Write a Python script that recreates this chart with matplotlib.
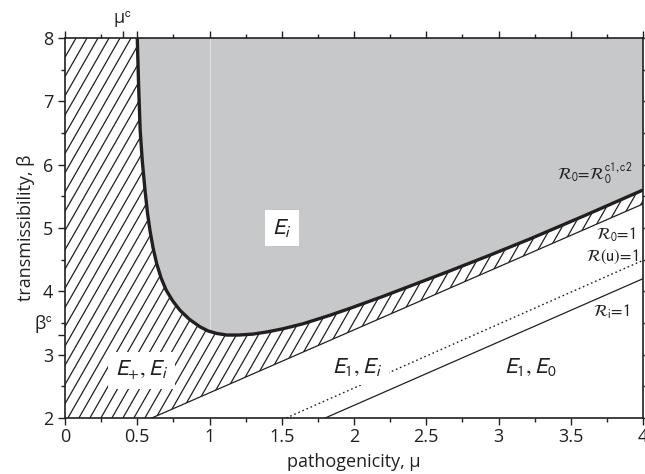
import numpy as np
import matplotlib
matplotlib.use("Agg")
import matplotlib.pyplot as plt
from matplotlib.collections import LineCollection

plt.rcParams['font.family'] = ['Open Sans', 'DejaVu Sans']
plt.rcParams['mathtext.fontset'] = 'stixsans'

# ---- data ----
# boundary R0 = R0^{c1,c2} (thick curve)
curve_mu = [0.500, 0.505, 0.510, 0.520, 0.535, 0.554, 0.570, 0.588, 0.610, 0.634,
            0.665, 0.700, 0.745, 0.796, 0.860, 0.934, 0.990, 1.050, 1.120, 1.200,
            1.300, 1.400, 1.510, 1.650, 1.830, 1.970, 2.200, 2.430, 2.660, 2.950,
            3.220, 3.600, 4.000]
curve_beta = [8.00, 7.60, 7.20, 6.55, 6.05, 5.59, 5.25, 4.96, 4.68, 4.44,
              4.21, 4.02, 3.85, 3.70, 3.56, 3.44, 3.375, 3.335, 3.31, 3.31,
              3.325, 3.36, 3.41, 3.49, 3.62, 3.73, 3.92, 4.12, 4.32, 4.58,
              4.83, 5.20, 5.60]
# straight boundaries
r0_mu, r0_beta = [0.60, 4.00], [2.00, 5.38]        # R0 = 1
ru_mu, ru_beta = [1.53, 4.00], [2.00, 4.49]        # R(u) = 1 (dotted)
ri_mu, ri_beta = [1.80, 4.00], [2.00, 4.20]        # Ri = 1

MU_C = 0.40
BETA_C = 3.31

x_major = [0, 0.5, 1, 1.5, 2, 2.5, 3, 3.5, 4]
x_labels = ['0', '0.5', '1', '1.5', '2', '2.5', '3', '3.5', '4']
y_major = [2, 3, 4, 5, 6, 7, 8]

region_labels = [
    (r'$E_i$', 1.50, 5.00, True),
    (r'$E_{+}, E_i$', 0.53, 2.75, True),
    (r'$E_{\mathit{1}}, E_i$', 2.02, 2.80, True),
    (r'$E_{\mathit{1}}, E_{\mathit{0}}$', 3.22, 2.80, False),
]
line_labels = [
    (r'$\mathcal{R}_0\!=\!\mathcal{R}_0^{\mathrm{c1,c2}}$', 3.93, 5.86),
    (r'$\mathcal{R}_0\!=\!1$', 3.95, 4.89),
    (r'$\mathcal{R}(\mathrm{u})\!=\!1$', 3.97, 4.54),
    (r'$\mathcal{R}_\mathrm{i}\!=\!1$', 3.91, 3.67),
]

# ---- figure ----
fig = plt.figure(figsize=(6.45, 4.74), dpi=100)
ax = fig.add_axes([0.1008, 0.1181, 0.8961, 0.8017])
ax.set_xlim(0, 4)
ax.set_ylim(2, 8)

gray = '#c7c8ca'
# gray region E_i
g_mu = list(curve_mu) + [4.0]
g_beta = list(curve_beta) + [8.0]
gpatch = ax.fill(g_mu, g_beta, facecolor=gray, edgecolor='none', zorder=1)[0]

# hatched region (bistable)
h_mu = [0.0] + list(curve_mu) + [r0_mu[1], r0_mu[0], 0.0]
h_beta = [8.0] + list(curve_beta) + [r0_beta[1], r0_beta[0], 2.0]
hpatch = ax.fill(h_mu, h_beta, facecolor='white', edgecolor='none', zorder=1)[0]

# custom steep hatch lines (axes-fraction coordinates), clipped to region
W, H = 578.0, 380.0
slope = 1.75
spacing = 11.0
segs = []
c = -H / slope - spacing
while c < W + spacing:
    segs.append([(c / W, 0.0), ((c + H / slope) / W, 1.0)])
    c += spacing
lc = LineCollection(segs, colors='#231f20', linewidths=0.9,
                    transform=ax.transAxes, zorder=2)
ax.add_collection(lc)
lc.set_clip_path(hpatch)

# faint grid line at mu = 1 inside gray region
vl, = ax.plot([1, 1], [2, 8], color='#dcdddf', lw=0.8, zorder=2)
vl.set_clip_path(gpatch)

# boundary lines
ax.plot(curve_mu, curve_beta, color='#231f20', lw=2.4, zorder=4,
        solid_capstyle='butt', solid_joinstyle='round')
ax.plot(r0_mu, r0_beta, color='#231f20', lw=0.9, zorder=4)
ax.plot(ru_mu, ru_beta, color='#231f20', lw=1.0, ls=(0, (1.2, 2.0)), zorder=4)
ax.plot(ri_mu, ri_beta, color='#231f20', lw=0.9, zorder=4)

# region labels
for txt, x, y, box in region_labels:
    kw = dict(ha='center', va='center', fontsize=16, color='#231f20', zorder=6)
    if box:
        kw['bbox'] = dict(facecolor='white', edgecolor='none', pad=5)
    ax.text(x, y, txt, **kw)

for txt, x, y in line_labels:
    ax.text(x, y, txt, ha='right', va='center', fontsize=12, color='#231f20', zorder=6)

# axes styling
for s in ax.spines.values():
    s.set_linewidth(1.2)
    s.set_color('#231f20')
    s.set_zorder(7)
ax.set_xticks(x_major, labels=x_labels)
ax.set_yticks(y_major)
ax.set_xticks(np.arange(0, 4.01, 0.25), minor=True)
ax.set_yticks(np.arange(2, 8.01, 0.5), minor=True)
ax.tick_params(which='both', direction='out', top=True, right=True,
               color='#231f20', width=1.0, labelsize=13, labelcolor='#231f20')
ax.tick_params(which='major', length=5)
ax.tick_params(which='minor', length=3)
ax.tick_params(axis='x', pad=2)

ax.set_xlabel(r'pathogenicity, μ', fontsize=13, color='#231f20', labelpad=5)
ax.set_ylabel(r'transmissibility, β', fontsize=13, color='#231f20', labelpad=6)

secx = ax.secondary_xaxis('top')
secx.set_xticks([MU_C], labels=['μ$^\\mathrm{c}$'])
secx.tick_params(direction='out', length=5, width=1.0, labelsize=13, pad=1,
                 color='#231f20', labelcolor='#231f20')
secx.spines['top'].set_visible(False)

secy = ax.secondary_yaxis('left')
secy.set_yticks([BETA_C], labels=['β$^\\mathrm{c}$'])
secy.tick_params(direction='out', length=5, width=1.0, labelsize=13,
                 color='#231f20', labelcolor='#231f20')
secy.spines['left'].set_visible(False)
for t in secy.get_yticklabels():
    t.set_verticalalignment('bottom')

fig.savefig('out.png', dpi=100)
